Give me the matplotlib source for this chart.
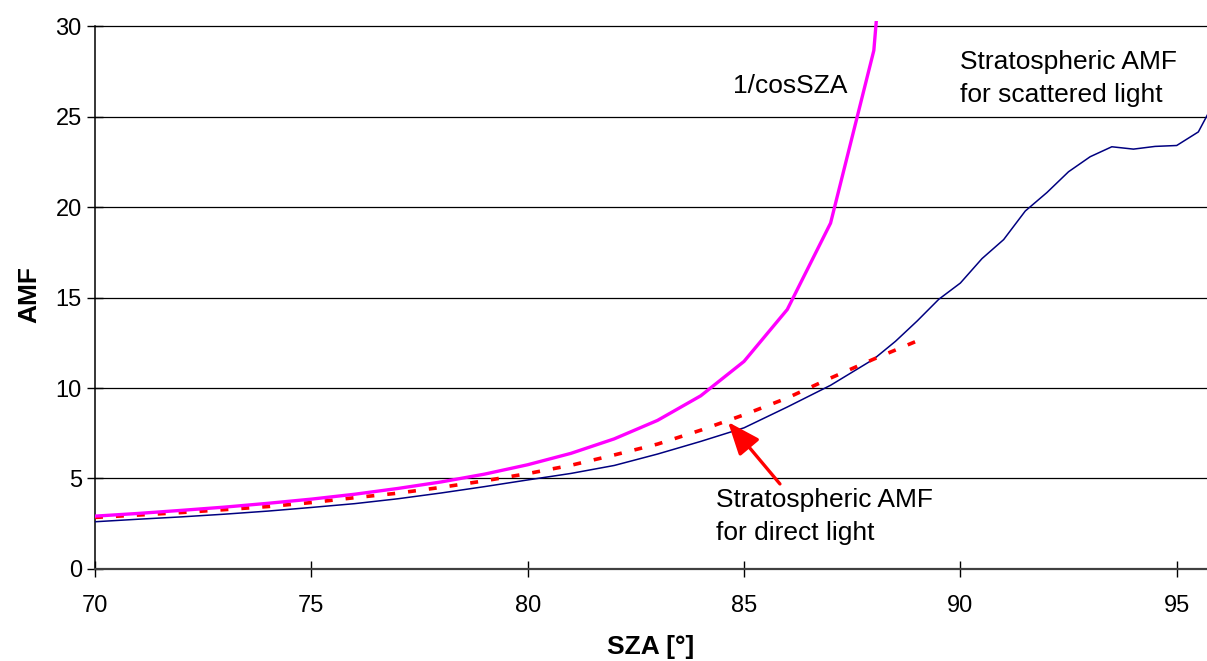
import numpy as np
import matplotlib
matplotlib.use('Agg')
import matplotlib.pyplot as plt

plt.rcParams['font.family'] = ['Liberation Sans', 'DejaVu Sans']

# ---------- datos ----------
sza_cos = [70, 71, 72, 73, 74, 75, 76, 77, 78, 79, 80, 81, 82, 83, 84, 85, 86, 87, 88, 89]
amf_cos = [2.92, 3.07, 3.24, 3.42, 3.63, 3.86, 4.13, 4.45, 4.81, 5.24, 5.76, 6.39,
           7.19, 8.21, 9.57, 11.47, 14.34, 19.11, 28.65, 57.3]

sza_direct = [70, 71, 72, 73, 74, 75, 76, 77, 78, 79, 80, 81, 82, 83, 84, 85, 86, 87, 88, 89]
amf_direct = [2.85, 2.98, 3.12, 3.28, 3.45, 3.67, 3.94, 4.19, 4.51, 4.87, 5.27, 5.73,
              6.30, 6.90, 7.67, 8.52, 9.45, 10.55, 11.60, 12.60]

sza_scat = [70, 71, 72, 73, 74, 75, 76, 77, 78, 79, 80, 81, 82, 83, 84, 85, 86, 87, 88,
            88.5, 89, 89.5, 90, 90.5, 91, 91.5, 92, 92.5, 93, 93.5, 94, 94.5, 95, 95.5, 96]
amf_scat = [2.61, 2.75, 2.88, 3.03, 3.20, 3.40, 3.61, 3.88, 4.20, 4.55, 4.92, 5.28, 5.72,
            6.35, 7.05, 7.80, 8.95, 10.15, 11.60, 12.58, 13.70, 14.90, 15.80, 17.15, 18.20,
            19.78, 20.80, 21.95, 22.78, 23.33, 23.20, 23.35, 23.40, 24.15, 26.40]

yticks = [0, 5, 10, 15, 20, 25, 30]
xticks = [70, 75, 80, 85, 90, 95]

# ---------- figura ----------
fig = plt.figure(figsize=(12.07, 6.61), dpi=100)
ax = fig.add_axes([0.0787, 0.1392, 0.9213, 0.8296])

for yv in yticks[1:]:
    ax.axhline(yv, color='black', lw=0.9, zorder=1)

ax.plot(sza_scat, amf_scat, color='#000080', lw=1.1, zorder=3)
ax.plot(sza_direct, amf_direct, color='#ff0000', lw=2.6, dashes=(2.2, 3.6), zorder=4)
ax.plot(sza_cos, amf_cos, color='#ff00ff', lw=2.4, zorder=5)

ax.set_xlim(70, 95.7)
ax.set_ylim(0, 30.3)
ax.set_xticks(xticks)
ax.set_yticks(yticks)

for s in ['top', 'right']:
    ax.spines[s].set_visible(False)
ax.spines['left'].set_bounds(0, 30)
ax.spines['left'].set_linewidth(1.1)
ax.spines['bottom'].set_linewidth(1.6)
ax.spines['bottom'].set_color('#404040')

ax.tick_params(axis='both', direction='inout', length=11, width=1, labelsize=17)
ax.tick_params(axis='x', pad=13)
ax.tick_params(axis='y', pad=4)

ax.set_xlabel('SZA [°]', fontsize=19, fontweight='bold', labelpad=13)
ax.set_ylabel('AMF', fontsize=19, fontweight='bold', labelpad=10)

ax.text(86.06, 26.7, '1/cosSZA', fontsize=19, ha='center', va='center')
ax.text(89.99, 27.1, 'Stratospheric AMF\nfor scattered light', fontsize=19,
        ha='left', va='center', linespacing=1.45)
ax.text(84.35, 2.9, 'Stratospheric AMF\nfor direct light', fontsize=19,
        ha='left', va='center', linespacing=1.45)

ax.annotate('', xy=(84.63, 8.12), xytext=(85.83, 4.7),
            arrowprops=dict(arrowstyle='-|>,head_length=2.0,head_width=0.8',
                            color='#ff0000', lw=2.4, shrinkA=0, shrinkB=0))

fig.savefig('out.png', dpi=100)
